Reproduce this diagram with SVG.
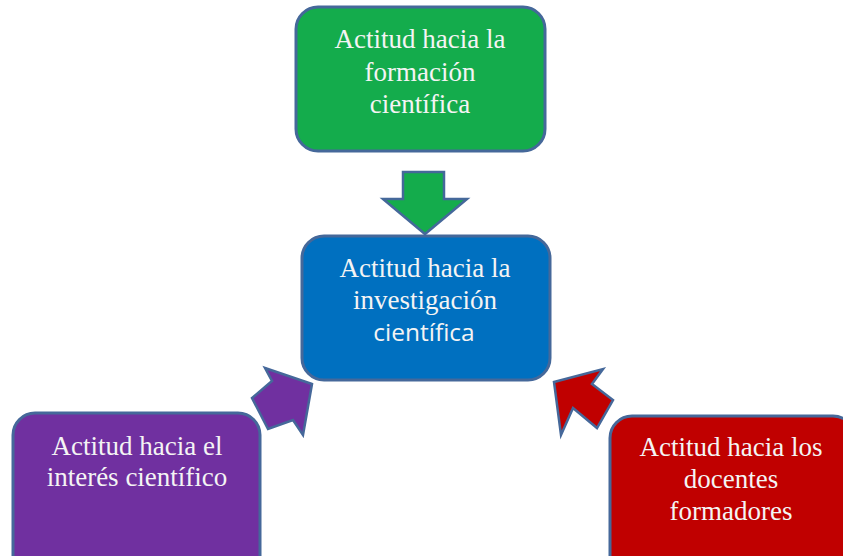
<svg xmlns="http://www.w3.org/2000/svg" width="843" height="556" viewBox="0 0 843 556">
<style>
.box{stroke:#45689A;stroke-width:3}
.arr{stroke:#45689A;stroke-width:2.5;stroke-linejoin:miter}
.t{font-family:"Liberation Serif","Times New Roman",serif;font-size:27px;fill:#F4F4F4;text-anchor:middle}
.s{font-family:"Open Sans","Liberation Sans",sans-serif;font-size:24.5px;fill:#F4F4F4;text-anchor:middle}
</style>
<rect width="843" height="556" fill="#FFFFFF"/>
<g id="connectors">
<polygon class="arr" fill="#14AC4C" points="403,172 444,172 444,199 467,199 425,234 383,199 403,199"/>
<polygon class="arr" fill="#7030A0" points="312,384 265,368 272,381 252,398 268,429 293,420 303,435"/>
<polygon class="arr" fill="#C00000" points="554,382 603,369 592,384 613,400 597,428 573,408 561,435"/>
</g>
<g id="node-formacion">
<rect class="box" x="296" y="7" width="249" height="144" rx="22" fill="#14AC4C"/>
<text class="t" x="420" y="48">Actitud hacia la</text>
<text class="t" x="420" y="81">formación</text>
<text class="t" x="420" y="113">científica</text>
</g>
<g id="node-investigacion">
<rect class="box" x="302" y="236" width="248" height="144" rx="22" fill="#0070C0"/>
<text class="t" x="425" y="277">Actitud hacia la</text>
<text class="t" x="425" y="309">investigación</text>
<text class="s" x="424" y="341">científica</text>
</g>
<g id="node-interes">
<rect class="box" x="13" y="413" width="247" height="170" rx="22" fill="#7030A0"/>
<text class="t" x="137" y="455">Actitud hacia el</text>
<text class="t" x="137" y="486">interés científico</text>
</g>
<g id="node-docentes">
<rect class="box" x="610" y="416" width="245" height="170" rx="22" fill="#C00000"/>
<text class="t" x="731" y="456">Actitud hacia los</text>
<text class="t" x="731" y="488">docentes</text>
<text class="t" x="731" y="520">formadores</text>
</g>
</svg>
